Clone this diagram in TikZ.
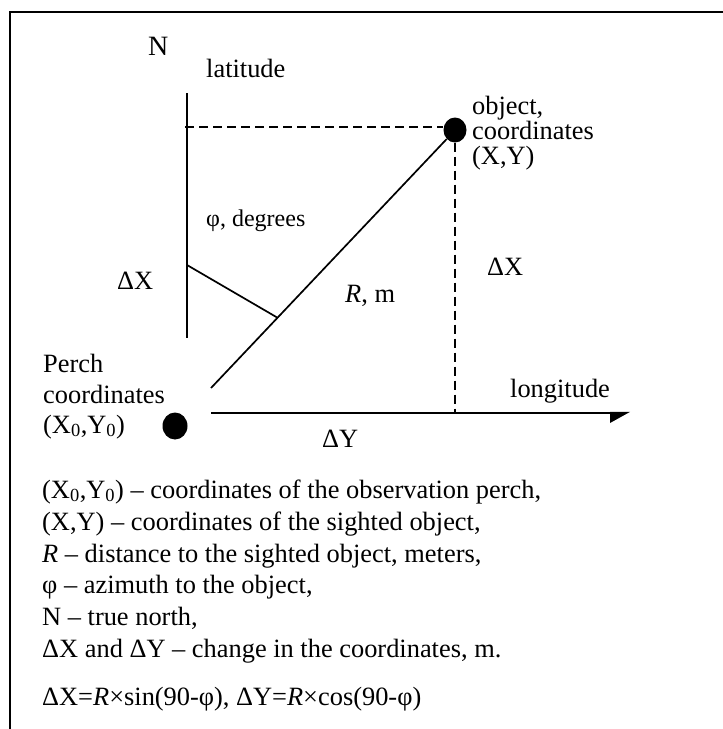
\documentclass[tikz,border=0pt]{standalone}
\usepackage{fontspec}
\setmainfont{Liberation Serif}
\usetikzlibrary{shapes.geometric}
\begin{document}
\begin{tikzpicture}[x=1pt,y=-1pt,
  txt/.style={inner sep=0pt, anchor=base west, font=\fontsize{26.4}{31.7}\selectfont},
  smalltxt/.style={inner sep=0pt, anchor=base west, font=\fontsize{24}{28}\selectfont},
  bigtxt/.style={inner sep=0pt, anchor=base west, font=\fontsize{28}{33}\selectfont},
  thinline/.style={line width=1.7pt},
  axisline/.style={line width=2.2pt},
  dashline/.style={line width=1.7pt, dash pattern=on 9pt off 5pt},
  blob/.style={ellipse, fill=black, inner sep=0pt}]
\useasboundingbox (0,0) rectangle (723,729);
\fill[white] (0,0) rectangle (723,729);
\clip (0,0) rectangle (723,729);
% frame
\coordinate (frBL) at (10,740);
\coordinate (frTL) at (10,12);
\coordinate (frTR) at (740,12);
\draw[line width=2.2pt] (frBL) -- (frTL) -- (frTR);
% dots
\node[blob, minimum width=23pt, minimum height=25pt] (obj) at (455,130) {};
\node[blob, minimum width=25pt, minimum height=27pt] (perch) at (175,426) {};
% latitude axis
\coordinate (latTop) at (187,93);
\coordinate (latBot) at (187,338);
\draw[thinline] (latTop) -- (latBot);
% longitude axis
\coordinate (axStart) at (211,413);
\coordinate (axEnd) at (610,413);
\draw[axisline] (axStart) -- (axEnd);
\fill (610,411.9) -- (630,411.9) -- (610,423) -- cycle;
% dashed lines
\coordinate (hd) at (185,127);
\draw[dashline] (hd) -- (hd -| obj.west);
\draw[dashline] (obj.south) -- (obj.south |- axStart);
% distance line
\coordinate (dStart) at (211,388);
\draw[thinline] (dStart) -- (obj.south west);
% angle line
\coordinate (arcA) at (187,265);
\coordinate (arcB) at (278,318);
\draw[thinline] (arcA) -- (arcB);
% labels
\node[bigtxt] (lN) at (148,55) {N};
\node[txt] (lLat) at (206,77) {latitude};
\node[txt] (lObj1) at (472,114) {object,};
\node[txt] (lObj2) at (472,139) {coordinates};
\node[txt] (lObj3) at (472,164) {(X,Y)};
\node[smalltxt] (lPhi) at (206,226) {φ, degrees};
\node[txt] (lDXl) at (117,289) {ΔX};
\node[txt] (lR) at (345,302) {\textit{R}, m};
\node[txt] (lDXr) at (487,275) {ΔX};
\node[txt] (lP1) at (43,372) {Perch};
\node[txt] (lP2) at (43,403) {coordinates};
\node[txt] (lP3) at (43,433) {(X\textsubscript{0},Y\textsubscript{0})};
\node[txt] (lLon) at (510,397) {longitude};
\node[txt] (lDY) at (322,447) {ΔY};
% legend
\node[txt] (g1) at (42,498) {(X\textsubscript{0},Y\textsubscript{0}) – coordinates of the observation perch,};
\node[txt] (g2) at (42,530) {(X,Y) – coordinates of the sighted object,};
\node[txt] (g3) at (42,562) {\textit{R} – distance to the sighted object, meters,};
\node[txt] (g4) at (42,593) {φ – azimuth to the object,};
\node[txt] (g5) at (42,625) {N – true north,};
\node[txt] (g6) at (42,657) {ΔX and ΔY – change in the coordinates, m.};
\node[txt] (g7) at (42,705) {ΔX=\textit{R}×sin(90-φ), ΔY=\textit{R}×cos(90-φ)};
\end{tikzpicture}
\end{document}
